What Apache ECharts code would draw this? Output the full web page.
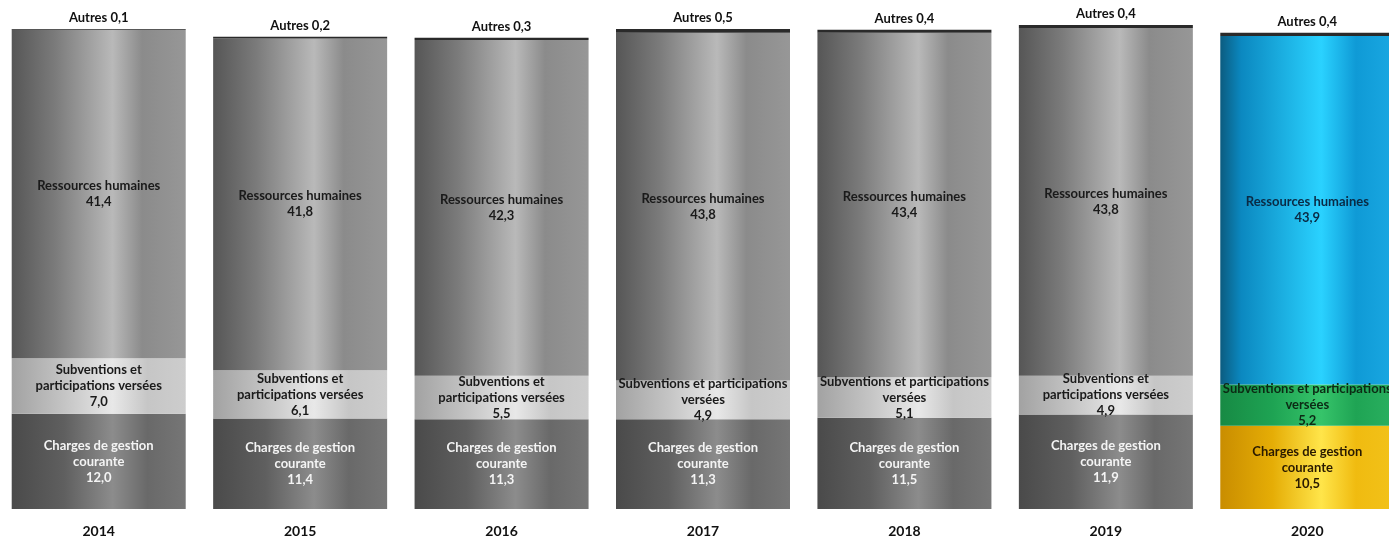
<!DOCTYPE html>
<html>
<head>
<meta charset="utf-8">
<script src="https://cdn.jsdelivr.net/npm/echarts@6/dist/echarts.min.js"></script>
<style>
  html, body { margin: 0; padding: 0; background: #fff; }
  #chart { width: 1389px; height: 539px; }
</style>
</head>
<body>
<div id="chart"></div>
<script>
// Dépenses de fonctionnement par nature (en %)
const years = ['2014', '2015', '2016', '2017', '2018', '2019', '2020'];
const charges = [12.0, 11.4, 11.3, 11.3, 11.5, 11.9, 10.5];
const subventions = [7.0, 6.1, 5.5, 4.9, 5.1, 4.9, 5.2];
const ressources = [41.4, 41.8, 42.3, 43.8, 43.4, 43.8, 43.9];
const autres = [0.1, 0.2, 0.3, 0.5, 0.4, 0.4, 0.4];
// line layout of the "Subventions" label for each year
const subventionsLabels = [
  'Subventions et\nparticipations versées',
  'Subventions et\nparticipations versées',
  'Subventions et\nparticipations versées',
  'Subventions et participations\nversées',
  'Subventions et participations\nversées',
  'Subventions et\nparticipations versées',
  'Subventions et participations\nversées'
];

const fmt = v => v.toFixed(1).replace('.', ',');

// horizontal "cylinder" shading
function cyl(stops) {
  return new echarts.graphic.LinearGradient(0, 0, 1, 0,
    stops.map(([o, c]) => ({ offset: o, color: c })));
}
const grayRH = cyl([[0, '#565656'], [0.25, '#7b7b7b'], [0.58, '#b9b9b9'], [0.75, '#8b8b8b'], [1, '#979797']]);
const graySub = cyl([[0, '#a2a2a2'], [0.3, '#c4c4c4'], [0.58, '#e8e8e8'], [0.78, '#c6c6c6'], [1, '#cdcdcd']]);
const grayCh = cyl([[0, '#4a4a4a'], [0.3, '#5f5f5f'], [0.58, '#8c8c8c'], [0.78, '#696969'], [1, '#767676']]);
const blueRH = cyl([[0, '#0b5c80'], [0.12, '#0b88c0'], [0.58, '#2ad2ff'], [0.78, '#0f9ad6'], [1, '#1aa8e2']]);
const greenSub = cyl([[0, '#178a44'], [0.3, '#1ea353'], [0.58, '#36c46a'], [0.78, '#1fa454'], [1, '#2ab060']]);
const goldCh = cyl([[0, '#c98d00'], [0.3, '#e5ad06'], [0.58, '#ffe54a'], [0.78, '#f0bb10'], [1, '#f2c21a']]);

const last = years.length - 1;
const font = { fontFamily: 'Lato', fontWeight: 'bold', fontSize: 13, lineHeight: 16 };

function build(values, gray, special, labelFn, color, specialColor) {
  return values.map((v, i) => ({
    value: v,
    itemStyle: { color: i === last ? special : gray },
    label: Object.assign({}, font, {
      show: true,
      position: 'inside',
      formatter: labelFn(i, v),
      color: i === last ? specialColor : color
    })
  }));
}

const option = {
  animation: false,
  backgroundColor: '#fff',
  grid: { left: -2, width: 1410, top: 17, bottom: 30, outerBoundsMode: 'none', containLabel: false },
  xAxis: {
    type: 'category',
    data: years,
    axisLine: { show: false },
    axisTick: { show: false },
    axisLabel: { color: '#111', fontFamily: 'Lato', fontWeight: 'bold', fontSize: 14, margin: 15 }
  },
  yAxis: { type: 'value', min: 0, max: 62, show: false, splitLine: { show: false } },
  series: [
    {
      name: 'Charges de gestion courante', type: 'bar', stack: 'total', barWidth: 174,
      data: build(charges, grayCh, goldCh, (i, v) => 'Charges de gestion\ncourante\n' + fmt(v), '#f4f4f4', '#2a1a00')
    },
    {
      name: 'Subventions et participations versées', type: 'bar', stack: 'total',
      data: build(subventions, graySub, greenSub, (i, v) => subventionsLabels[i] + '\n' + fmt(v), '#1a1a1a', '#0c2a14')
    },
    {
      name: 'Ressources humaines', type: 'bar', stack: 'total',
      data: build(ressources, grayRH, blueRH, (i, v) => 'Ressources humaines\n' + fmt(v), '#1a1a1a', '#0a2a44')
    },
    {
      name: 'Autres', type: 'bar', stack: 'total',
      itemStyle: { color: '#2a2a2a' },
      label: Object.assign({}, font, {
        show: true, position: 'top', distance: 3, fontSize: 13, color: '#111',
        formatter: p => 'Autres ' + fmt(p.value)
      }),
      data: autres
    }
  ]
};

echarts.init(document.getElementById('chart')).setOption(option);
</script>
</body>
</html>
